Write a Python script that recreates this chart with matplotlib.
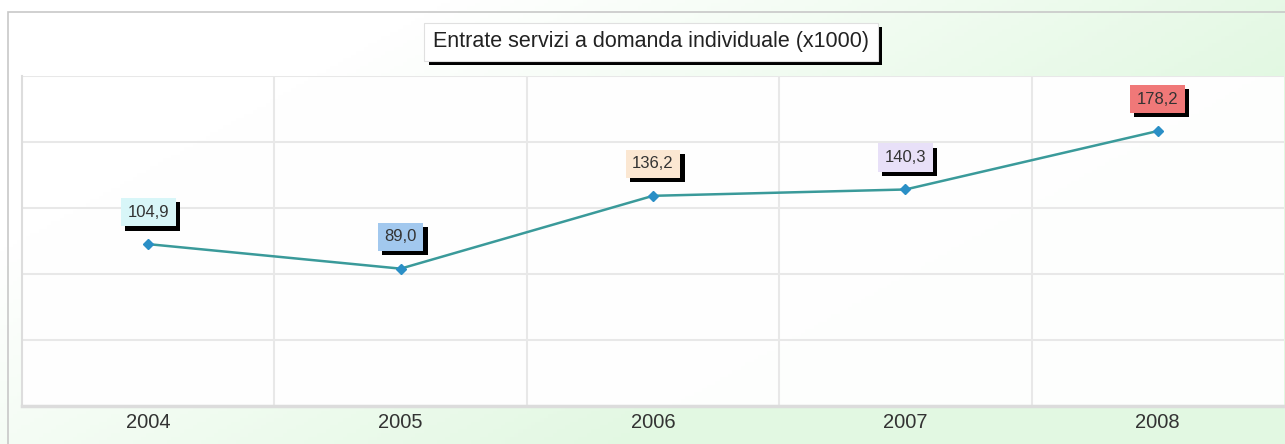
import matplotlib
matplotlib.use('Agg')
import matplotlib.pyplot as plt
import matplotlib.patheffects as pe
import numpy as np
from matplotlib.colors import LinearSegmentedColormap
from matplotlib.patches import Rectangle

years = ['2004', '2005', '2006', '2007', '2008']
values = [104.9, 89.0, 136.2, 140.3, 178.2]
labels = ['104,9', '89,0', '136,2', '140,3', '178,2']
label_colors = ['#d8f6f8', '#a2c8ee', '#fbe7d2', '#e8e0f8', '#f07878']
title = 'Entrate servizi a domanda individuale (x1000)'

plt.rcParams['font.family'] = ['Liberation Sans', 'DejaVu Sans']

W, H = 1285, 444
fig = plt.figure(figsize=(W / 100, H / 100), dpi=100)

# background gradient (white -> light green towards right/bottom)
bg = fig.add_axes([0, 0, 1, 1], zorder=-10)
xx, yy = np.meshgrid(np.linspace(0, 1, 300), np.linspace(0, 1, 120))
t = np.clip(1.3 * xx + 0.8 * yy - 0.45, 0, 1)
cmap = LinearSegmentedColormap.from_list('g', ['#ffffff', '#e2f8e2'])
bg.imshow(t, cmap=cmap, aspect='auto', extent=[0, 1, 0, 1], origin='upper', vmin=0, vmax=1)
bg.set_axis_off()
# outer frame
fig.patches.append(Rectangle((8 / W, -0.01), 1.0, 1 - 12 / H + 0.01, transform=fig.transFigure,
                             fill=False, edgecolor='#c8c8c8', linewidth=1.2, zorder=-5))

left, right = 22 / W, 1284 / W
bottom, top = 1 - 406 / H, 1 - 76 / H
ax = fig.add_axes([left, bottom, right - left, top - bottom])
ax.set_facecolor((1, 1, 1, 0.97))

x = np.arange(len(years))
ymax = max(values) * 1.2
ax.set_xlim(-0.5, len(years) - 0.5)
ax.set_ylim(0, ymax)
ax.set_yticks(np.linspace(0, ymax, 6))
ax.set_yticklabels([])
ax.set_xticks(x)
ax.set_xticklabels(years, fontsize=14.5, color='#333333')
ax.set_xticks(x[:-1] + 0.5, minor=True)
ax.tick_params(axis='both', which='both', length=0)
ax.tick_params(axis='x', pad=5)
ax.grid(True, axis='y', color='#e8e8e8', linewidth=1.5)
ax.grid(True, axis='x', which='minor', color='#e8e8e8', linewidth=1.5)
for s in ['top', 'right']:
    ax.spines[s].set_visible(False)
ax.spines['left'].set_color('#dddddd')
ax.spines['left'].set_linewidth(1.5)
ax.spines['bottom'].set_color('#dcdcdc')
ax.spines['bottom'].set_linewidth(2.5)

ax.plot(x, values, color='#3a9a9a', linewidth=1.8, zorder=3)
ax.plot(x, values, linestyle='none', marker='D', markersize=5.5, color='#2a8fc6', zorder=4)

for xi, v, lab, c in zip(x, values, labels, label_colors):
    tx = ax.annotate(lab, (xi, v), xytext=(0, 23), textcoords='offset points',
                     ha='center', va='center', fontsize=12, color='#333333',
                     bbox=dict(boxstyle='square,pad=0.4', facecolor=c, edgecolor='none'),
                     zorder=5)
    tx.get_bbox_patch().set_path_effects([
        pe.SimplePatchShadow(offset=(3, -3), shadow_rgbFace='black', alpha=1.0),
        pe.Normal()])

tt = fig.text(651 / W, 1 - 42 / H, title, ha='center', va='center', fontsize=15.5, color='#222222',
              bbox=dict(boxstyle='square,pad=0.4', facecolor='white', edgecolor='#e0e0e0', linewidth=0.8))
tt.get_bbox_patch().set_path_effects([
    pe.SimplePatchShadow(offset=(3, -3), shadow_rgbFace='black', alpha=1.0),
    pe.Normal()])

fig.savefig('out.png', dpi=100)
